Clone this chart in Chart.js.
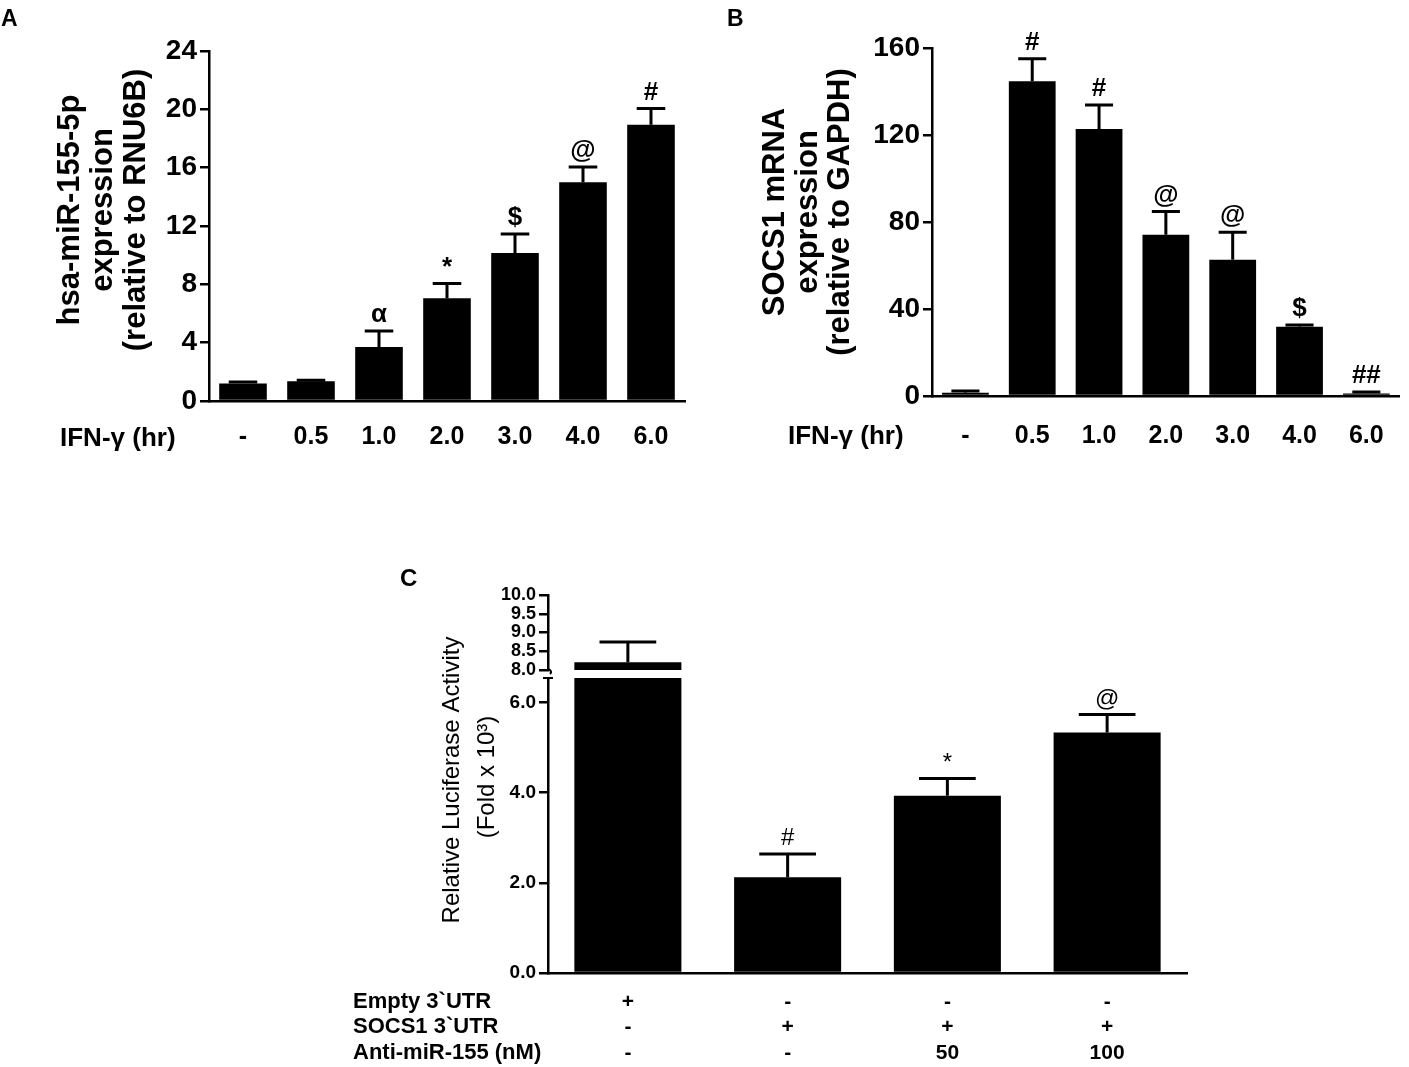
<!DOCTYPE html>
<html>
<head>
<meta charset="utf-8">
<script src="https://cdn.jsdelivr.net/npm/chart.js@4.4.1/dist/chart.umd.min.js"></script>
<style>
  body { margin: 0; background: #fff; width: 1409px; height: 1067px; position: relative; overflow: hidden; }
  canvas { position: absolute; }
</style>
</head>
<body>
<canvas id="chartA" width="705" height="480" style="left:0px;top:0px"></canvas>
<canvas id="chartB" width="689" height="480" style="left:720px;top:0px"></canvas>
<canvas id="chartCLow" width="860" height="507" style="left:340px;top:560px"></canvas>
<canvas id="chartCHigh" width="860" height="507" style="left:340px;top:560px"></canvas>
<script>
// panel A : hsa-miR-155-5p
const hourLabels = ['-', '0.5', '1.0', '2.0', '3.0', '4.0', '6.0'];
const mirValues = [1.2, 1.35, 3.7, 7.05, 10.15, 15.0, 18.95];
const mirSem = [0.1, 0.08, 1.1, 1.0, 1.3, 1.05, 1.1];
const mirMarks = ['', '', 'α', '*', '$', '@', '#'];
const mirTicks = [0, 4, 8, 12, 16, 20, 24];

// panel B : SOCS1 mRNA
const socsValues = [1.5, 144.7, 122.8, 74.1, 62.7, 31.8, 1.2];
const socsSem = [0.8, 10.4, 11.0, 10.7, 12.6, 0.9, 0.6];
const socsMarks = ['', '#', '#', '@', '@', '$', '##'];
const socsTicks = [0, 40, 80, 120, 160];

// panel C : luciferase
const emptyUtr = ['+', '-', '-', '-'];
const socsUtr = ['-', '+', '+', '+'];
const antiMir = ['-', '-', '50', '100'];
const lucValues = [8.21, 2.12, 3.93, 5.33];
const lucSem = [0.54, 0.52, 0.38, 0.40];
const lucMarks = ['', '#', '*', '@'];
const lucLowTicks = [0, 2, 4, 6];
const lucHighTicks = [8, 8.5, 9, 9.5, 10];
const lucLowMax = 6.54;
const lucHighMin = 8;

const FONT = "'Liberation Sans', Arial, sans-serif";
Chart.defaults.font.family = FONT;
Chart.defaults.color = '#000';

// whiskers + significance marks, drawn from the bar elements
function errorLayer(values, sem, marks, style) {
  return {
    id: 'errorLayer',
    afterDatasetsDraw(chart) {
      const ctx = chart.ctx;
      const y = chart.scales.y;
      const bars = chart.getDatasetMeta(0).data;
      ctx.save();
      ctx.strokeStyle = '#000';
      ctx.fillStyle = '#000';
      ctx.lineWidth = style.lineWidth;
      ctx.font = style.font;
      ctx.textAlign = 'center';
      ctx.textBaseline = 'alphabetic';
      values.forEach((v, i) => {
        const top = v + sem[i];
        if (v < y.min || top > y.max) return;
        const bar = bars[i];
        const py = y.getPixelForValue(v);
        const pe = y.getPixelForValue(top);
        const half = bar.width * style.cap / 2;
        ctx.beginPath();
        ctx.moveTo(bar.x, py);
        ctx.lineTo(bar.x, pe);
        ctx.moveTo(bar.x - half, pe);
        ctx.lineTo(bar.x + half, pe);
        ctx.stroke();
        if (marks[i]) ctx.fillText(marks[i], bar.x, pe - style.gap);
      });
      ctx.restore();
    }
  };
}

function textLayer(items) {
  return {
    id: 'textLayer',
    afterDraw(chart) {
      const ctx = chart.ctx;
      items.forEach(item => {
        ctx.save();
        ctx.font = item.font;
        ctx.fillStyle = '#000';
        ctx.textAlign = item.align || 'left';
        ctx.textBaseline = 'middle';
        ctx.translate(item.x, item.y);
        if (item.rotate) ctx.rotate(-Math.PI / 2);
        ctx.fillText(item.text, 0, 0);
        ctx.restore();
      });
    }
  };
}

function breakMark(edge) {
  return {
    id: 'breakMark',
    afterDraw(chart) {
      const ctx = chart.ctx;
      const a = chart.chartArea;
      ctx.save();
      ctx.strokeStyle = '#000';
      ctx.lineWidth = 2;
      ctx.beginPath();
      if (edge === 'top') {
        ctx.moveTo(a.left - 5, a.top);
        ctx.lineTo(a.left + 5, a.top);
      } else {
        ctx.moveTo(a.left, a.bottom - 1);
        ctx.quadraticCurveTo(a.left + 5, a.bottom + 1, a.left + 2, a.bottom + 4);
      }
      ctx.stroke();
      ctx.restore();
    }
  };
}

function yAxis(min, max, ticks, size, width, fmt) {
  return {
    min: min,
    max: max,
    afterBuildTicks: s => { s.ticks = ticks.map(v => ({ value: v })); },
    afterFit: s => { s.width = width; },
    grid: { drawOnChartArea: false, color: '#000', lineWidth: 2.5, tickLength: 9 },
    border: { color: '#000', width: 2.5 },
    ticks: { color: '#000', autoSkip: false, padding: 3, font: { size: size, weight: 'bold', lineHeight: 1 }, callback: fmt }
  };
}

function xAxis(height, size, padding, lineHeight) {
  return {
    afterFit: s => { s.height = height; },
    grid: { display: false, drawTicks: false },
    border: { color: '#000', width: 2.5 },
    ticks: { color: '#000', padding: padding, autoSkip: false, maxRotation: 0, font: { size: size, weight: 'bold', lineHeight: lineHeight } }
  };
}

const basePlugins = { legend: { display: false }, tooltip: { enabled: false } };

// A
new Chart(document.getElementById('chartA'), {
  type: 'bar',
  data: {
    labels: hourLabels,
    datasets: [{ data: mirValues, backgroundColor: '#000', barPercentage: 0.7, categoryPercentage: 1 }]
  },
  options: {
    responsive: false,
    animation: false,
    layout: { padding: { top: 51, right: 20, left: 0, bottom: 0 } },
    plugins: basePlugins,
    scales: {
      x: xAxis(79, 25, 21, 1.2),
      y: yAxis(0, 24, mirTicks, 28, 209, v => v)
    }
  },
  plugins: [
    errorLayer(mirValues, mirSem, mirMarks, { lineWidth: 3, cap: 0.6, font: 'bold 26px ' + FONT, gap: 9 }),
    textLayer([
      { text: 'A', x: 1, y: 20, font: 'bold 23px ' + FONT },
      { text: 'hsa-miR-155-5p', x: 70, y: 210, rotate: true, align: 'center', font: 'bold 31px ' + FONT },
      { text: 'expression', x: 103, y: 210, rotate: true, align: 'center', font: 'bold 31px ' + FONT },
      { text: '(relative to RNU6B)', x: 136, y: 210, rotate: true, align: 'center', font: 'bold 31px ' + FONT },
      { text: 'IFN-γ (hr)', x: 60, y: 439, font: 'bold 26px ' + FONT }
    ])
  ]
});

// B
new Chart(document.getElementById('chartB'), {
  type: 'bar',
  data: {
    labels: hourLabels,
    datasets: [{ data: socsValues, backgroundColor: '#000', barPercentage: 0.7, categoryPercentage: 1 }]
  },
  options: {
    responsive: false,
    animation: false,
    layout: { padding: { top: 48, right: 4, left: 0, bottom: 0 } },
    plugins: basePlugins,
    scales: {
      x: xAxis(84, 25, 25, 1.2),
      y: yAxis(0, 160, socsTicks, 28, 212, v => v)
    }
  },
  plugins: [
    errorLayer(socsValues, socsSem, socsMarks, { lineWidth: 3, cap: 0.6, font: 'bold 26px ' + FONT, gap: 9 }),
    textLayer([
      { text: 'B', x: 7, y: 20, font: 'bold 23px ' + FONT },
      { text: 'SOCS1 mRNA', x: 55, y: 212, rotate: true, align: 'center', font: 'bold 31px ' + FONT },
      { text: 'expression', x: 88, y: 212, rotate: true, align: 'center', font: 'bold 31px ' + FONT },
      { text: '(relative to GAPDH)', x: 120, y: 212, rotate: true, align: 'center', font: 'bold 31px ' + FONT },
      { text: 'IFN-γ (hr)', x: 68, y: 437, font: 'bold 26px ' + FONT }
    ])
  ]
});

// C, lower segment of the broken axis
const lucLabels = emptyUtr.map((v, i) => [v, socsUtr[i], antiMir[i]]);
new Chart(document.getElementById('chartCLow'), {
  type: 'bar',
  data: {
    labels: lucLabels,
    datasets: [{ data: lucValues, backgroundColor: '#000', barPercentage: 0.67, categoryPercentage: 1, clip: 0 }]
  },
  options: {
    responsive: false,
    animation: false,
    layout: { padding: { top: 118, right: 13, left: 0, bottom: 0 } },
    plugins: basePlugins,
    scales: {
      x: xAxis(94, 21, 16, '25.5px'),
      y: yAxis(0, lucLowMax, lucLowTicks, 19, 208, v => v.toFixed(1))
    }
  },
  plugins: [
    errorLayer(lucValues, lucSem, lucMarks, { lineWidth: 3, cap: 0.53, font: '24px ' + FONT, gap: 9 }),
    breakMark('top'),
    textLayer([
      { text: 'C', x: 60, y: 19, font: 'bold 24px ' + FONT },
      { text: 'Relative Luciferase Activity', x: 112, y: 220, rotate: true, align: 'center', font: '24px ' + FONT },
      { text: '(Fold x 10³)', x: 147, y: 217, rotate: true, align: 'center', font: '24px ' + FONT },
      { text: 'Empty 3`UTR', x: 13, y: 442, font: 'bold 22px ' + FONT },
      { text: 'SOCS1 3`UTR', x: 13, y: 467, font: 'bold 22px ' + FONT },
      { text: 'Anti-miR-155 (nM)', x: 13, y: 493, font: 'bold 22px ' + FONT }
    ])
  ]
});

// C, upper segment
new Chart(document.getElementById('chartCHigh'), {
  type: 'bar',
  data: {
    labels: lucLabels,
    datasets: [{
      data: lucValues.map(v => (v > lucHighMin ? v : null)),
      backgroundColor: '#000', barPercentage: 0.67, categoryPercentage: 1, clip: 0
    }]
  },
  options: {
    responsive: false,
    animation: false,
    layout: { padding: { top: 35, right: 13, left: 0, bottom: 397 } },
    plugins: basePlugins,
    scales: {
      x: { display: false },
      y: yAxis(lucHighMin, 10, lucHighTicks, 18, 208, v => v.toFixed(1))
    }
  },
  plugins: [
    errorLayer(lucValues, lucSem, lucMarks, { lineWidth: 3, cap: 0.53, font: '24px ' + FONT, gap: 9 }),
    breakMark('bottom')
  ]
});
</script>
</body>
</html>
